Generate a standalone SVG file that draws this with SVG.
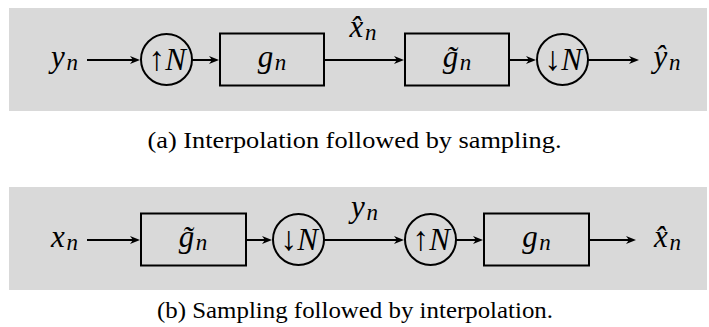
<svg xmlns="http://www.w3.org/2000/svg" width="709" height="327" viewBox="0 0 709 327">
<defs>
<marker id="ah" viewBox="-11 -5 13 10" refX="-3" refY="0" markerWidth="13" markerHeight="10" markerUnits="userSpaceOnUse" orient="auto">
<path d="M0,0 L-10,-4 L-7,0 L-10,4 Z" fill="#000"/>
</marker>
</defs>
<g fill="#d9d9d9">
<rect x="9" y="8" width="698" height="103"/>
<rect x="9" y="187" width="698" height="103"/>
</g>

<g id="connectors" fill="none" stroke="#000" stroke-width="2" marker-end="url(#ah)">
<line x1="87" y1="60" x2="137" y2="60"/>
<line x1="192" y1="60" x2="216" y2="60"/>
<line x1="324" y1="60" x2="401" y2="60"/>
<line x1="509" y1="60" x2="533" y2="60"/>
<line x1="588" y1="60" x2="636" y2="60"/>
<line x1="87" y1="240" x2="137" y2="240"/>
<line x1="246" y1="240" x2="269" y2="240"/>
<line x1="324" y1="240" x2="401" y2="240"/>
<line x1="456" y1="240" x2="480" y2="240"/>
<line x1="589" y1="240" x2="633" y2="240"/>
</g>

<g font-family="Liberation Serif, Times New Roman, serif" font-style="italic" font-size="31" text-anchor="middle" fill="#000">
<g id="a_in"><text x="64.5" y="67">y<tspan font-size="23" dx="1.5" dy="3">n</tspan></text></g>
<g id="a_up"><circle cx="166.5" cy="59.5" r="25.5" fill="none" stroke="#000" stroke-width="2"/><text x="167" y="70"><tspan font-style="normal" font-size="34">↑</tspan>N</text></g>
<g id="a_g"><rect x="220" y="33.5" width="104" height="52" fill="none" stroke="#000" stroke-width="2"/><text x="272" y="67">g<tspan font-size="23" dx="1.5" dy="3">n</tspan></text></g>
<g id="a_xhat"><text x="363" y="37">x̂<tspan font-size="23" dx="1.5" dy="3">n</tspan></text></g>
<g id="a_gt"><rect x="405" y="33.5" width="104" height="52" fill="none" stroke="#000" stroke-width="2"/><text x="457" y="67">g̃<tspan font-size="23" dx="1.5" dy="3">n</tspan></text></g>
<g id="a_down"><circle cx="562.5" cy="59.5" r="25.5" fill="none" stroke="#000" stroke-width="2"/><text x="563" y="70"><tspan font-style="normal" font-size="34">↓</tspan>N</text></g>
<g id="a_out"><text x="667" y="67">ŷ<tspan font-size="23" dx="1.5" dy="3">n</tspan></text></g>

<g id="b_in"><text x="64.5" y="247">x<tspan font-size="23" dx="1.5" dy="3">n</tspan></text></g>
<g id="b_gt"><rect x="141" y="213.5" width="105" height="52" fill="none" stroke="#000" stroke-width="2"/><text x="193" y="247">g̃<tspan font-size="23" dx="1.5" dy="3">n</tspan></text></g>
<g id="b_down"><circle cx="298.5" cy="239.5" r="25.5" fill="none" stroke="#000" stroke-width="2"/><text x="299" y="250"><tspan font-style="normal" font-size="34">↓</tspan>N</text></g>
<g id="b_y"><text x="364.5" y="217">y<tspan font-size="23" dx="1.5" dy="3">n</tspan></text></g>
<g id="b_up"><circle cx="430.5" cy="239.5" r="25.5" fill="none" stroke="#000" stroke-width="2"/><text x="431" y="250"><tspan font-style="normal" font-size="34">↑</tspan>N</text></g>
<g id="b_g"><rect x="484" y="213.5" width="105" height="52" fill="none" stroke="#000" stroke-width="2"/><text x="536.5" y="247">g<tspan font-size="23" dx="1.5" dy="3">n</tspan></text></g>
<g id="b_out"><text x="667.5" y="247">x̂<tspan font-size="23" dx="1.5" dy="3">n</tspan></text></g>
</g>

<g font-family="Liberation Serif, Times New Roman, serif" font-size="23" text-anchor="middle" fill="#000">
<text x="354.5" y="148" textLength="414" lengthAdjust="spacingAndGlyphs">(a) Interpolation followed by sampling.</text>
<text x="355" y="318" textLength="396" lengthAdjust="spacingAndGlyphs">(b) Sampling followed by interpolation.</text>
</g>
</svg>
